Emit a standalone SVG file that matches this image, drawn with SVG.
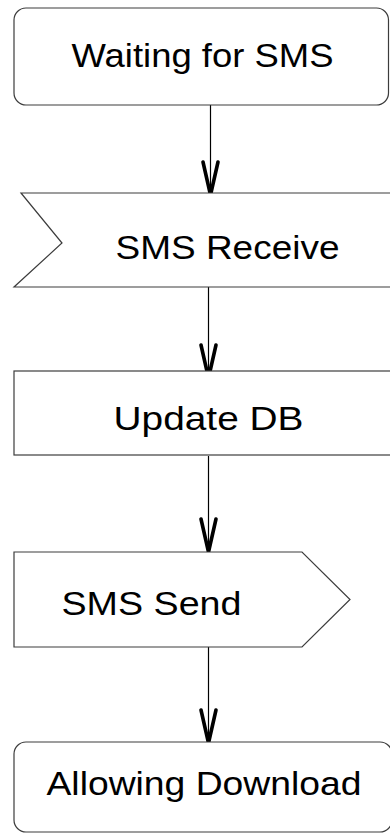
<svg xmlns="http://www.w3.org/2000/svg" width="390" height="834" viewBox="0 0 390 834">
  <style>
    .shape { fill: #ffffff; stroke: #3c3c3c; stroke-width: 1.2; }
    .label { font-family: "Liberation Sans", Arial, sans-serif; font-size: 33.5px; fill: #000000; text-anchor: middle; }
    .flow { stroke: #000000; stroke-width: 1.2; fill: none; }
    .head { stroke: #000000; stroke-width: 3.6; fill: none; stroke-linejoin: round; stroke-linecap: round; }
  </style>
  <rect width="390" height="834" fill="#ffffff"/>

  <g id="connectors">
    <line class="flow" x1="210.5" y1="105" x2="210.5" y2="194"/>
    <polyline class="head" points="203,162 210.5,195 218,162"/>
    <line class="flow" x1="208.5" y1="287" x2="208.5" y2="377"/>
    <polyline class="head" points="201,345 208.5,378 216,345"/>
    <line class="flow" x1="208.5" y1="456" x2="208.5" y2="551"/>
    <polyline class="head" points="201,519 208.5,552 216,519"/>
    <line class="flow" x1="208.5" y1="647" x2="208.5" y2="742"/>
    <polyline class="head" points="201,710 208.5,743 216,710"/>
  </g>

  <g id="waiting-for-sms">
    <rect class="shape" x="14" y="8" width="374.5" height="97" rx="12" ry="12"/>
    <text class="label" x="202.5" y="67.3" textLength="262" lengthAdjust="spacingAndGlyphs">Waiting for SMS</text>
  </g>

  <g id="sms-receive">
    <polygon class="shape" points="21,193 391,193 391,287 14,287 62,243"/>
    <text class="label" x="227.5" y="258.5" textLength="224" lengthAdjust="spacingAndGlyphs">SMS Receive</text>
  </g>

  <g id="update-db">
    <rect class="shape" x="14" y="371" width="377" height="84"/>
    <text class="label" x="208.5" y="430" textLength="190" lengthAdjust="spacingAndGlyphs">Update DB</text>
  </g>

  <g id="sms-send">
    <polygon class="shape" points="14,552 302,552 350,599.5 302,647 14,647"/>
    <text class="label" x="151.5" y="615" textLength="180" lengthAdjust="spacingAndGlyphs">SMS Send</text>
  </g>

  <g id="allowing-download">
    <rect class="shape" x="14" y="742" width="378" height="90" rx="12" ry="12"/>
    <text class="label" x="204" y="795" textLength="315" lengthAdjust="spacingAndGlyphs">Allowing Download</text>
  </g>
</svg>
